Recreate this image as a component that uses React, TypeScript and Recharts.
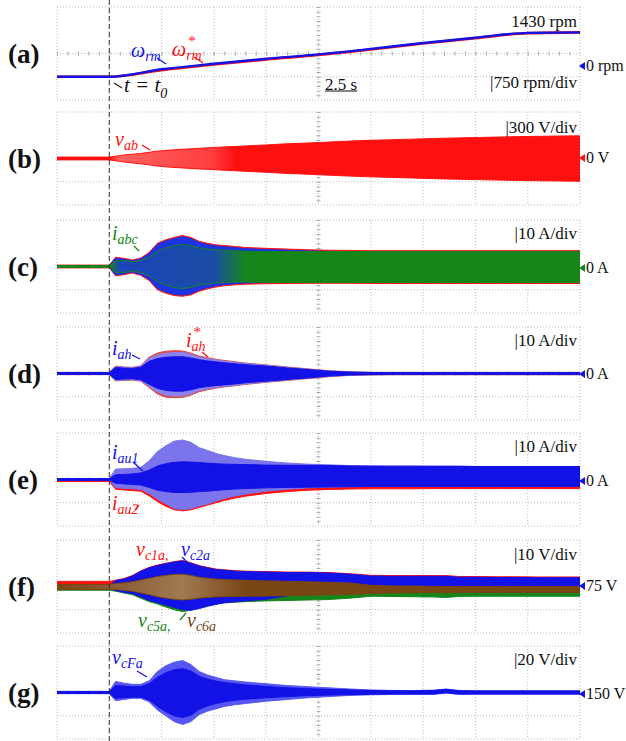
import React from 'react';
import {
  ComposedChart,
  Area,
  Line,
  XAxis,
  YAxis,
  CartesianGrid,
} from 'recharts';

// temps (s) commun aux enveloppes
const T = [0, 2.5, 2.8, 3.2, 3.6, 4.0, 4.4, 4.8, 5.2, 5.6, 6.0, 6.4, 6.8, 7.2, 7.6, 8.0, 8.5, 9, 10, 11, 12, 13, 14, 15, 16, 17, 18, 18.6, 19.2, 20, 21, 22, 23, 24, 25];

// (a) vitesse (rpm)
const SPEED_T = [0, 2.5, 5, 7.5, 10, 12.5, 15, 17.5, 20, 22.5, 25];
const SPEED = [0, 0, 240, 420, 580, 720, 900, 1090, 1260, 1415, 1430];
const SPEED_REF = [0, 0, 215, 395, 560, 700, 880, 1070, 1245, 1405, 1430];

// (b) v_ab (V)
const B_HI = [18, 18, 30, 45, 55, 65, 80, 95, 105, 112, 120, 125, 132, 138, 143, 150, 155, 162, 175, 190, 200, 212, 225, 235, 242, 250, 258, 262, 266, 270, 276, 282, 286, 290, 292];
const B_LO = [-18, -18, -30, -45, -57, -68, -82, -98, -108, -115, -122, -128, -135, -140, -146, -152, -158, -165, -178, -192, -203, -215, -227, -237, -244, -252, -260, -264, -268, -272, -278, -283, -287, -290, -293];

// (c) i_abc (A)
const C_RED_HI = [0.6, 0.6, 4, 3.5, 2.8, 3.6, 6, 10, 11.5, 12.5, 13.3, 12.5, 10.8, 10, 9.3, 9, 8.6, 8.2, 7.8, 7.5, 7.2, 7, 6.9, 6.8, 6.8, 6.8, 6.8, 6.8, 6.8, 6.8, 6.8, 6.8, 6.8, 6.8, 6.8];
const C_RED_LO = [-0.6, -0.6, -4, -3.5, -2.8, -3.8, -6, -10, -11.5, -12.5, -12.8, -12.2, -10.6, -9.6, -8.8, -8.3, -7.9, -7.6, -7.4, -7.3, -7.2, -7.2, -7.2, -7.3, -7.3, -7.3, -7.3, -7.3, -7.3, -7.3, -7.3, -7.3, -7.3, -7.3, -7.3];
const C_BLUE_HI = [0.4, 0.4, 3.6, 3.1, 2.4, 3.2, 5.5, 9.5, 11, 12, 12.8, 12, 10.3, 9.5, 8.8, 8.5, 8.1, 7.7, 7.3, 7, 6.7, 6.5, 6.4, 6.3, 6.3, 6.3, 6.3, 6.3, 6.3, 6.3, 6.3, 6.3, 6.3, 6.3, 6.3];
const C_BLUE_LO = [-0.4, -0.4, -3.6, -3.1, -2.4, -3.4, -5.5, -9.5, -11, -12, -12.3, -11.7, -10.1, -9.1, -8.3, -7.8, -7.4, -7.1, -6.9, -6.8, -6.7, -6.7, -6.7, -6.8, -6.8, -6.8, -6.8, -6.8, -6.8, -6.8, -6.8, -6.8, -6.8, -6.8, -6.8];
const C_GREEN_HI = [0.4, 0.4, 2.5, 2.5, 2, 2.5, 4, 6.5, 8, 9, 9.5, 9, 8, 7.5, 7.2, 7, 6.8, 6.5, 6.4, 6.4, 6.4, 6.4, 6.4, 6.4, 6.4, 6.4, 6.4, 6.4, 6.4, 6.4, 6.4, 6.4, 6.4, 6.4, 6.4];
const C_GREEN_LO = [-0.4, -0.4, -2.5, -2.5, -2, -2.5, -4, -6.5, -8, -9, -9.5, -9, -8, -7.5, -7, -6.8, -6.7, -6.7, -6.8, -6.9, -6.9, -6.9, -6.9, -6.9, -6.9, -6.9, -6.9, -6.9, -6.9, -6.9, -6.9, -6.9, -6.9, -6.9, -6.9];

// (d) i_ah, i_ah* (A)
const D_RED_HI = [0.5, 0.5, 3.2, 2.8, 2.6, 3.3, 7, 8.8, 9.6, 9.8, 9.7, 8.8, 7.5, 6.8, 6.1, 5.6, 5.1, 4.5, 3.7, 2.8, 2, 1.2, 0.7, 0.5, 0.5, 0.5, 0.5, 0.5, 0.5, 0.5, 0.5, 0.5, 0.5, 0.5, 0.5];
const D_RED_LO = [-0.5, -0.5, -3.2, -3, -2.8, -3.3, -6, -8.8, -10.2, -10.4, -10.3, -9.3, -7.8, -7, -6.3, -5.8, -5.3, -4.7, -3.8, -3, -2.2, -1.4, -0.8, -0.6, -0.55, -0.55, -0.55, -0.55, -0.55, -0.55, -0.55, -0.55, -0.55, -0.55, -0.55];
const D_BLUE_HI = [0.4, 0.4, 3, 2.6, 2.4, 3, 6.5, 8, 8.7, 9, 9.1, 8.3, 7, 6.4, 5.8, 5.3, 4.8, 4.3, 3.5, 2.6, 1.8, 1.1, 0.6, 0.45, 0.4, 0.4, 0.4, 0.4, 0.4, 0.4, 0.4, 0.4, 0.4, 0.4, 0.4];
const D_BLUE_LO = [-0.4, -0.4, -3, -2.8, -2.6, -3, -5.5, -8, -9.4, -9.7, -9.7, -8.8, -7.3, -6.6, -6, -5.6, -5.1, -4.5, -3.6, -2.8, -2, -1.2, -0.7, -0.5, -0.45, -0.45, -0.45, -0.45, -0.45, -0.45, -0.45, -0.45, -0.45, -0.45, -0.45];
const D_CORE_HI = [0.4, 0.4, 2.6, 2.3, 2.2, 2.7, 5.2, 6.4, 7, 7.2, 7.2, 6.7, 5.9, 5.4, 5, 4.6, 4.2, 3.8, 3.2, 2.4, 1.7, 1.0, 0.6, 0.45, 0.4, 0.4, 0.4, 0.4, 0.4, 0.4, 0.4, 0.4, 0.4, 0.4, 0.4];
const D_CORE_LO = [-0.4, -0.4, -2.6, -2.4, -2.3, -2.7, -4.6, -6.4, -7.3, -7.6, -7.6, -7, -6.1, -5.6, -5.2, -4.9, -4.5, -4, -3.3, -2.6, -1.9, -1.1, -0.65, -0.5, -0.45, -0.45, -0.45, -0.45, -0.45, -0.45, -0.45, -0.45, -0.45, -0.45, -0.45];

// (e) i_au1, i_au2 (A)
const E_RED_HI = [0.2, 0.2, 3, 3.3, 3.6, 4, 6.5, 10, 12.5, 14.5, 15, 14.5, 12.5, 11.5, 10.5, 9.5, 8.5, 8, 7, 6.5, 6, 5.8, 5.5, 5.4, 5.3, 5.3, 5.3, 5.3, 5.3, 5.3, 5.3, 5.3, 5.3, 5.3, 5.3];
const E_RED_LO = [-0.9, -0.9, -4.2, -4.5, -4.8, -5, -7, -9.5, -11.5, -13, -13.5, -13, -12, -11, -10, -9, -8, -7.2, -6, -5.2, -4.6, -4.3, -4.1, -4, -4, -4, -3.9, -3.9, -3.9, -3.9, -3.9, -3.9, -3.9, -3.9, -3.9];
const E_BLUE_HI = [0.4, 0.4, 4.5, 4.6, 4.8, 5.2, 8, 12, 14.5, 16.5, 17, 16, 13.7, 12.5, 11.2, 10.3, 9.4, 8.7, 7.8, 7.1, 6.6, 6.3, 6, 5.9, 5.8, 5.8, 5.7, 5.7, 5.7, 5.6, 5.6, 5.6, 5.6, 5.6, 5.6];
const E_BLUE_LO = [-0.4, -0.4, -3.5, -3.8, -4, -4.3, -6, -8.5, -10.5, -12.5, -13, -12.5, -11.4, -10.5, -9.3, -8.2, -7.1, -6.3, -5, -4.2, -3.6, -3.3, -3.1, -3, -3, -3, -3, -3, -3, -3, -3, -3, -3, -3, -3];
const E_CORE_HI = [0.4, 0.4, 2, 2.2, 2.4, 2.8, 4, 5.8, 6.8, 7.4, 7.6, 7.5, 7.3, 7, 6.8, 6.6, 6.5, 6.4, 6.2, 6.1, 6.1, 6, 5.8, 5.7, 5.7, 5.7, 5.7, 5.7, 5.7, 5.6, 5.6, 5.6, 5.6, 5.6, 5.6];
const E_CORE_LO = [-0.4, -0.4, -1.6, -1.9, -2.1, -2.4, -3.4, -4.6, -5.2, -5.6, -5.6, -5.5, -5.2, -5, -4.7, -4.4, -4.1, -3.9, -3.6, -3.4, -3.3, -3.2, -3.1, -3, -3, -3, -3, -3, -3, -3, -3, -3, -3, -3, -3];

// (f) v_c1a, v_c2a, v_c5a, v_c6a (V)
const F_RED_HI = [77.2, 77.2, 77.7, 78.4, 79.7, 81.7, 83.2, 84.2, 85, 85.7, 86.2, 85.2, 84, 83.2, 82.5, 82.2, 81.8, 81.6, 81.4, 81.2, 81.2, 81, 80.5, 79.8, 79.7, 79.7, 79.7, 79.7, 79.3, 79.3, 79.2, 79.2, 79.1, 79.1, 79.1];
const F_RED_LO = [75.8, 75.8, 77, 77.5, 78.5, 80, 81, 82, 83, 84, 84.5, 84, 83, 82, 81, 80.5, 80, 80, 80, 80, 80, 79.8, 79, 78.5, 78.4, 78.3, 78.2, 78.2, 78, 78, 78, 78, 78, 78, 78];
const F_GREEN_HI = [75, 75, 76, 76.5, 77, 78, 79, 80, 80.5, 81, 81, 80.5, 80, 79.5, 79, 78.5, 78, 78, 77.5, 77, 76.5, 76, 75.5, 75, 75, 75, 75, 75, 75, 75, 75, 75, 75, 75, 75];
const F_GREEN_LO = [73.4, 73.4, 73, 72.2, 71.5, 70, 68.5, 67.5, 66.2, 65, 64.2, 64.8, 66, 66.8, 67.5, 68, 68.2, 68.5, 68.8, 69, 69.2, 69.4, 70, 70.8, 70.7, 70.6, 70.5, 70.3, 70.7, 70.8, 70.8, 70.8, 70.8, 70.8, 70.8];
const F_BLUE_HI = [75.5, 75.5, 77.5, 78.2, 79.5, 81.5, 83, 84, 84.8, 85.5, 86, 85, 83.8, 83, 82.3, 82, 81.6, 81.4, 81.2, 81, 81, 80.8, 80.3, 79.5, 79.4, 79.4, 79.4, 79.4, 79, 79, 78.9, 78.9, 78.8, 78.8, 78.8];
const F_BLUE_LO = [74.5, 74.5, 73.2, 72.5, 72, 70.5, 69, 68, 67, 66, 65, 64.8, 65.5, 66.5, 67.3, 68, 68.4, 68.8, 69.5, 71, 72.5, 74, 75.2, 75.4, 75.4, 75.4, 75.4, 75.4, 75.4, 75.4, 75.4, 75.4, 75.4, 75.4, 75.4];
const F_BROWN_HI = [75.9, 75.9, 76.3, 76.6, 77, 77.8, 78.5, 79.3, 79.8, 80.2, 80.3, 79.8, 79, 78.6, 78.2, 78, 77.8, 77.7, 77.4, 77.2, 77, 76.8, 76.5, 75.5, 75.2, 75.2, 75, 75, 75, 75, 75, 75, 75, 75, 75];
const F_BROWN_LO = [73.7, 73.7, 73.7, 73.3, 73, 72.2, 71.5, 70.6, 70, 69.5, 69.2, 69.5, 70, 70.3, 70.5, 70.6, 70.7, 70.8, 70.9, 71, 71.2, 71.4, 71.6, 72, 72.2, 72.3, 72.4, 72.3, 72.4, 72.4, 72.4, 72.4, 72.4, 72.4, 72.4];

// (g) v_cFa (V)
const G_HI = [151, 151, 159.5, 158, 157, 157, 160, 168, 173, 176, 177.5, 174, 168, 165, 163, 161, 160, 159, 157.5, 156, 155, 154, 153, 152.2, 151.8, 151.7, 152, 153, 151.8, 151.5, 151.5, 151.5, 151.5, 151.5, 151.5];
const G_LO = [149, 149, 143, 144, 145, 145, 142, 135, 130, 125, 122.5, 125, 131, 134, 136, 138, 139.5, 140.5, 142.5, 144, 145.5, 146.5, 147.5, 148, 148.3, 148.4, 148.4, 149.5, 148.4, 148.5, 148.5, 148.5, 148.5, 148.5, 148.5];
const G_CORE_HI = [150.8, 150.8, 156, 155.5, 155, 155, 157.5, 163, 167, 169.5, 170.5, 168.5, 164, 161.5, 159.8, 158.6, 157.5, 156.6, 155.2, 154, 153.3, 152.7, 152.2, 151.7, 151.5, 151.4, 151.7, 152.7, 151.5, 151.3, 151.3, 151.3, 151.3, 151.3, 151.3];
const G_CORE_LO = [149.2, 149.2, 145, 145.5, 146, 146, 143.5, 138, 133.5, 130, 128.5, 130.5, 135.5, 138.5, 140.5, 142, 143.3, 144.2, 145.5, 146.5, 147.3, 147.8, 148.2, 148.5, 148.7, 148.7, 148.7, 149.8, 148.7, 148.8, 148.8, 148.8, 148.8, 148.8, 148.8];

// échelles (4 divisions verticales)
const DOM_A: [number, number] = [-750, 2250];
const DOM_B: [number, number] = [-600, 600];
const DOM_I: [number, number] = [-20, 20];
const DOM_F: [number, number] = [55, 95];
const DOM_G: [number, number] = [110, 190];
const X_TICKS = [0, 2.5, 5, 7.5, 10, 12.5, 15, 17.5, 20, 22.5, 25];

// ── Mise en page ───────────────────────────────────────────

const W = 626;
const H = 741;
const LEFT = 57;
const PLOT_W = 523;
const PLOT_H = 93;
const T_MAX = 25;
const T0 = 2.5;
const TOPS = [7, 112, 220, 327, 433, 540, 646];

const RED = '#ff1010';
const BLUE = '#1212e6';
const GREEN = '#16861a';
const BROWN = '#7a4614';
const SERIF = '"Liberation Serif", "Times New Roman", serif';

const rows = T.map((t, i) => ({
  t,
  b: [B_LO[i], B_HI[i]],
  cRed: [C_RED_LO[i], C_RED_HI[i]],
  cBlue: [C_BLUE_LO[i], C_BLUE_HI[i]],
  cGreen: [C_GREEN_LO[i], C_GREEN_HI[i]],
  dRed: [D_RED_LO[i], D_RED_HI[i]],
  dBlue: [D_BLUE_LO[i], D_BLUE_HI[i]],
  dCore: [D_CORE_LO[i], D_CORE_HI[i]],
  eRed: [E_RED_LO[i], E_RED_HI[i]],
  eBlue: [E_BLUE_LO[i], E_BLUE_HI[i]],
  eCore: [E_CORE_LO[i], E_CORE_HI[i]],
  fRed: [F_RED_LO[i], F_RED_HI[i]],
  fGreen: [F_GREEN_LO[i], F_GREEN_HI[i]],
  fBlue: [F_BLUE_LO[i], F_BLUE_HI[i]],
  fBrown: [F_BROWN_LO[i], F_BROWN_HI[i]],
  g: [G_LO[i], G_HI[i]],
  gCore: [G_CORE_LO[i], G_CORE_HI[i]],
}));

const speedRows = SPEED_T.map((t, i) => ({ t, w: SPEED[i], wRef: SPEED_REF[i] }));

// ── Composants ─────────────────────────────────────────────

function band(key: string, color: string, fill?: string) {
  return (
    <Area
      key={key}
      type="linear"
      dataKey={key}
      stroke={color}
      strokeWidth={1}
      fill={fill ?? color}
      fillOpacity={1}
      isAnimationActive={false}
      dot={false}
      activeDot={false}
    />
  );
}

function Scope({ top, domain, data, children }: { top: number; domain: [number, number]; data: any[]; children: React.ReactNode }) {
  const [lo, hi] = domain;
  const step = (hi - lo) / 4;
  const yTicks = [lo, lo + step, lo + 2 * step, lo + 3 * step, hi];
  const divX = PLOT_W / 10;
  const divY = PLOT_H / 4;
  return (
    <div style={{ position: 'absolute', left: 0, top: top - 2 }}>
      <ComposedChart
        width={W}
        height={PLOT_H + 4}
        data={data}
        margin={{ top: 2, bottom: 2, left: LEFT, right: W - LEFT - PLOT_W }}
      >
        <defs>
          <linearGradient id="gradB" x1="0" y1="0" x2="1" y2="0">
            <stop offset="0" stopColor={RED} />
            <stop offset="0.1" stopColor={RED} />
            <stop offset="0.12" stopColor="#ff6262" />
            <stop offset="0.3" stopColor="#ff3c3c" />
            <stop offset="0.34" stopColor={RED} />
            <stop offset="1" stopColor={RED} />
          </linearGradient>
          <linearGradient id="gradC" x1="0" y1="0" x2="1" y2="0">
            <stop offset="0" stopColor={GREEN} stopOpacity={1} />
            <stop offset="0.1" stopColor={GREEN} stopOpacity={1} />
            <stop offset="0.12" stopColor={GREEN} stopOpacity={0.2} />
            <stop offset="0.3" stopColor={GREEN} stopOpacity={0.3} />
            <stop offset="0.36" stopColor={GREEN} stopOpacity={1} />
            <stop offset="1" stopColor={GREEN} stopOpacity={1} />
          </linearGradient>
          <linearGradient id="gradF" x1="0" y1="0" x2="1" y2="0">
            <stop offset="0" stopColor={BROWN} />
            <stop offset="0.12" stopColor="#8a5e36" />
            <stop offset="0.24" stopColor="#a07a52" />
            <stop offset="0.36" stopColor={BROWN} />
            <stop offset="1" stopColor={BROWN} />
          </linearGradient>
        </defs>
        <XAxis type="number" dataKey="t" domain={[0, T_MAX]} ticks={X_TICKS} hide />
        <YAxis type="number" domain={domain} ticks={yTicks} hide allowDataOverflow />
        <CartesianGrid stroke="#bdbdbd" strokeDasharray="1 2" />
        {/* petites graduations sur les axes centraux */}
        <CartesianGrid
          vertical={false}
          horizontalValues={[lo + 2 * step]}
          stroke="#aaaaaa"
          strokeWidth={4}
          strokeDasharray={`1 ${divX / 5 - 1}`}
        />
        <CartesianGrid
          horizontal={false}
          verticalValues={[T_MAX / 2]}
          stroke="#aaaaaa"
          strokeWidth={4}
          strokeDasharray={`1 ${divY / 5 - 1}`}
        />
        {children}
      </ComposedChart>
    </div>
  );
}

function Txt({ x, y, size = 17, color = '#111', end, italic, bold, children }: any) {
  return (
    <div
      style={{
        position: 'absolute',
        left: x,
        top: y,
        transform: end ? 'translate(-100%, -50%)' : 'translateY(-50%)',
        fontFamily: SERIF,
        fontSize: size,
        fontStyle: italic ? 'italic' : 'normal',
        fontWeight: bold ? 700 : 400,
        color,
        lineHeight: 1,
        whiteSpace: 'nowrap',
      }}
    >
      {children}
    </div>
  );
}

function Sym({ x, y, color, base, sub, star }: any) {
  return (
    <Txt x={x} y={y} size={20} color={color} italic>
      {base}
      <span style={{ position: 'relative', display: 'inline-block', fontSize: 14, top: 4 }}>
        {star && (
          <span
            style={{
              position: 'absolute',
              left: 2,
              top: -13,
              fontSize: 15,
              lineHeight: '10px',
              height: 10,
              fontStyle: 'normal',
            }}
          >
            *
          </span>
        )}
        {sub}
      </span>
    </Txt>
  );
}

function Marker({ y, color, label }: { y: number; color: string; label: string }) {
  return (
    <div
      style={{
        position: 'absolute',
        left: LEFT + PLOT_W - 1,
        top: y,
        transform: 'translateY(-50%)',
        display: 'flex',
        alignItems: 'center',
        fontFamily: SERIF,
        fontSize: 16,
        color: '#111',
        lineHeight: 1,
        whiteSpace: 'nowrap',
      }}
    >
      <span
        style={{
          display: 'inline-block',
          width: 0,
          height: 0,
          borderTop: '4px solid transparent',
          borderBottom: '4px solid transparent',
          borderRight: `6px solid ${color}`,
          marginRight: 1,
        }}
      />
      {label}
    </div>
  );
}

export default function App() {
  const x0 = LEFT + (T0 / T_MAX) * PLOT_W;
  const mid = (k: number) => TOPS[k] + PLOT_H / 2;
  const arrows: [number, number, number, number, string][] = [
    [157, 58, 166, 64, BLUE],
    [194, 57, 203, 63, RED],
    [114, 83, 122, 88, '#222'],
    [142, 145, 150, 150, RED],
    [134, 246, 139, 251, GREEN],
    [132, 355, 140, 359, BLUE],
    [202, 352, 208, 357, RED],
    [133, 462, 143, 471, BLUE],
    [135, 510, 139, 505, RED],
    [182, 557, 188, 563, BLUE],
    [180, 620, 186, 613, GREEN],
    [137, 671, 147, 677, BLUE],
  ];

  return (
    <div style={{ position: 'absolute', left: 0, top: 0, width: W, height: H, background: '#fff', overflow: 'hidden' }}>
      {/* (a) vitesse */}
      <Scope top={TOPS[0]} domain={DOM_A} data={speedRows}>
        <Line type="monotone" dataKey="wRef" stroke={RED} strokeWidth={2.6} dot={false} isAnimationActive={false} />
        <Line type="monotone" dataKey="w" stroke={BLUE} strokeWidth={2.4} dot={false} isAnimationActive={false} />
      </Scope>
      {/* (b) tension composée */}
      <Scope top={TOPS[1]} domain={DOM_B} data={rows}>
        {band('b', RED, 'url(#gradB)')}
      </Scope>
      {/* (c) courants de phase */}
      <Scope top={TOPS[2]} domain={DOM_I} data={rows}>
        {band('cRed', RED)}
        {band('cBlue', '#1c34e2')}
        {band('cGreen', GREEN, 'url(#gradC)')}
      </Scope>
      {/* (d) courant harmonique */}
      <Scope top={TOPS[3]} domain={DOM_I} data={rows}>
        {band('dRed', '#e04848')}
        {band('dBlue', '#8a82ee')}
        {band('dCore', BLUE)}
      </Scope>
      {/* (e) courants de bras */}
      <Scope top={TOPS[4]} domain={DOM_I} data={rows}>
        {band('eRed', RED)}
        {band('eBlue', '#7c74ec')}
        {band('eCore', BLUE)}
      </Scope>
      {/* (f) tensions condensateurs */}
      <Scope top={TOPS[5]} domain={DOM_F} data={rows}>
        {band('fRed', RED)}
        {band('fGreen', GREEN)}
        {band('fBlue', BLUE)}
        {band('fBrown', BROWN, 'url(#gradF)')}
      </Scope>
      {/* (g) condensateur flottant */}
      <Scope top={TOPS[6]} domain={DOM_G} data={rows}>
        {band('g', '#5656f2')}
        {band('gCore', BLUE)}
      </Scope>

      <svg width={W} height={H} style={{ position: 'absolute', left: 0, top: 0, pointerEvents: 'none' }}>
        <line x1={x0} y1={0} x2={x0} y2={H} stroke="#333" strokeWidth={1} strokeDasharray="5 3" />
        {arrows.map(([a, b, c, d, col], i) => (
          <line key={i} x1={a} y1={b} x2={c} y2={d} stroke={col} strokeWidth={1.3} />
        ))}
      </svg>

      {['(a)', '(b)', '(c)', '(d)', '(e)', '(f)', '(g)'].map((s, k) => (
        <Txt key={s} x={8} y={mid(k)} size={27} bold>
          {s}
        </Txt>
      ))}

      {/* échelles */}
      <Txt x={577} y={21} end>1430 rpm</Txt>
      <Txt x={577} y={82} end>|750 rpm/div</Txt>
      <Txt x={325} y={84}>
        <span style={{ textDecoration: 'underline' }}>2.5 s</span>
      </Txt>
      <Txt x={577} y={TOPS[1] + 15} end>|300 V/div</Txt>
      <Txt x={577} y={TOPS[2] + 13} end>|10 A/div</Txt>
      <Txt x={577} y={TOPS[3] + 13} end>|10 A/div</Txt>
      <Txt x={577} y={TOPS[4] + 13} end>|10 A/div</Txt>
      <Txt x={577} y={TOPS[5] + 14} end>|10 V/div</Txt>
      <Txt x={577} y={TOPS[6] + 13} end>|20 V/div</Txt>

      <Marker y={66} color={BLUE} label="0 rpm" />
      <Marker y={158} color={RED} label="0 V" />
      <Marker y={268} color={GREEN} label="0 A" />
      <Marker y={374} color={BLUE} label="0 A" />
      <Marker y={481} color={BLUE} label="0 A" />
      <Marker y={586} color={BLUE} label="75 V" />
      <Marker y={694} color={BLUE} label="150 V" />

      {/* annotations */}
      <Sym x={131} y={50} color={BLUE} base="ω" sub="rm" />
      <Sym x={172} y={49} color={RED} base="ω" sub="rm" star />
      <Txt x={124} y={88} size={21} italic>
        t = t<sub style={{ fontSize: 14 }}>0</sub>
      </Txt>
      <Sym x={115} y={139} color={RED} base="v" sub="ab" />
      <Sym x={112} y={233} color={GREEN} base="i" sub="abc" />
      <Sym x={112} y={348} color={BLUE} base="i" sub="ah" />
      <Sym x={186} y={340} color={RED} base="i" sub="ah" star />
      <Sym x={112} y={452} color={BLUE} base="i" sub="au1" />
      <Sym x={112} y={503} color={RED} base="i" sub="au2" />
      <Sym x={136} y={549} color={RED} base="v" sub="c1a," />
      <Sym x={181} y={549} color={BLUE} base="v" sub="c2a" />
      <Sym x={138} y={620} color={GREEN} base="v" sub="c5a," />
      <Sym x={187} y={620} color={BROWN} base="v" sub="c6a" />
      <Sym x={112} y={657} color={BLUE} base="v" sub="cFa" />
    </div>
  );
}
